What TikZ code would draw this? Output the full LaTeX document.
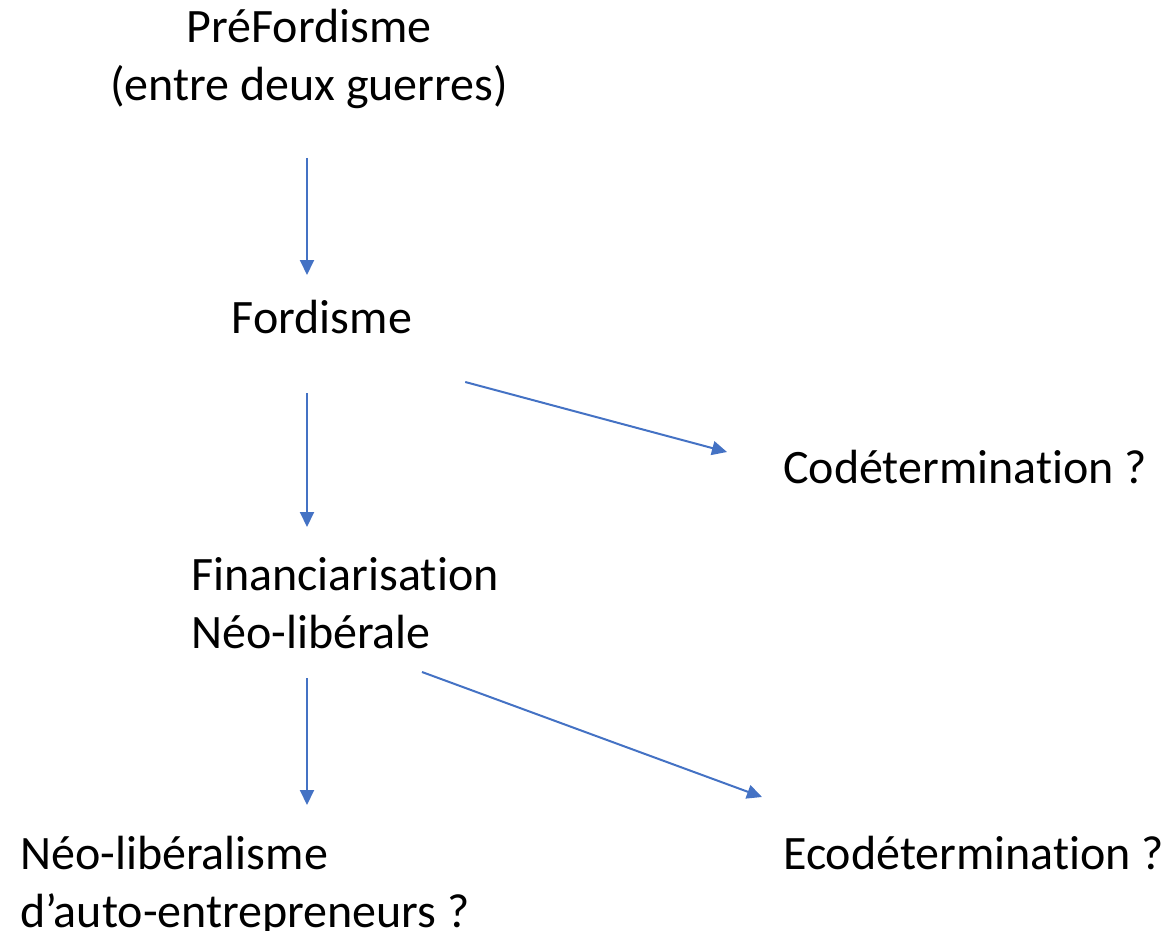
\documentclass[tikz,border=0pt]{standalone}
\usepackage{fontspec}
\setmainfont{Carlito}[Ligatures=NoCommon]
\usetikzlibrary{arrows.meta}
\definecolor{bleu}{HTML}{4472C4}

\begin{document}
\begin{tikzpicture}[x=1pt, y=-1pt,
    etape/.style={inner sep=0pt, font=\fontsize{48}{58}\selectfont},
    fleche/.style={draw=bleu, line width=2pt, -{Triangle[length=15pt, width=14pt]}}]
        \useasboundingbox (0,0) rectangle (1168,931);
        % les regimes (base = derniere ligne)
        \node[etape, align=center, anchor=base] (pre) at (309,101) {PréFordisme\\(entre deux guerres)};
        \node[etape, anchor=base] (ford) at (322,333) {Fordisme};
        \node[etape, align=left, anchor=base west] (fin) at (191,648) {Financiarisation\\Néo-libérale};
        \node[etape, align=left, anchor=base west] (neo) at (20,927) {Néo-libéralisme\\d’auto-entrepreneurs ?};
        % les alternatives
        \node[etape, anchor=base west] (codet) at (783,483) {Codétermination ?};
        \node[etape, anchor=base west] (ecodet) at (783,869) {Ecodétermination ?};
        \coordinate (axe) at (307,0);
        % fleches
        \draw[fleche, shorten <=57pt, shorten >=58pt] (pre.base -| axe) -- (ford.base -| axe);
        \draw[fleche, shorten <=60pt, shorten >=121pt] (ford.base -| axe) -- (fin.base -| axe);
        \draw[fleche, shorten <=30pt, shorten >=122pt] (fin.base -| axe) -- (neo.base -| axe);
        \draw[fleche] ([shift={(53,49)}]ford.base east) -- ([shift={(-56,-31)}]codet.base west);
        \draw[fleche] ([shift={(231,24)}]fin.base west) -- ([shift={(-21,-72)}]ecodet.base west);
\end{tikzpicture}
\end{document}
